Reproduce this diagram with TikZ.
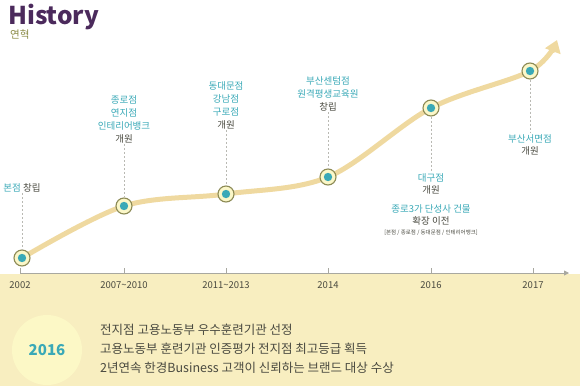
\documentclass[tikz,border=0pt]{standalone}
\usepackage{fontspec}
\setmainfont{Noto Sans CJK KR}
\usetikzlibrary{arrows.meta}
\definecolor{tealc}{HTML}{3AA9B7}
\definecolor{bandc}{HTML}{F8EEC0}
\definecolor{curvec}{HTML}{EFD9A0}
\definecolor{purp}{HTML}{4B2A5C}
\definecolor{olivec}{HTML}{8A8A45}
\definecolor{dtext}{HTML}{4A4A40}
\definecolor{ringc}{HTML}{8C8A55}
\definecolor{ringfill}{HTML}{FBF7C8}
\definecolor{yearcirc}{HTML}{FCF8C6}
\definecolor{axisc}{HTML}{A8A8A0}
\tikzset{
  marker/.style={circle, draw=ringc, fill=ringfill, line width=1.1pt, minimum size=16pt, inner sep=0pt},
  lbl/.style={align=center, font=\fontsize{9.5}{12.8}\selectfont, text=dtext, inner sep=1pt},
  conn/.style={draw=axisc!80, dashed, dash pattern=on 2pt off 2pt, line width=0.8pt},
  yr/.style={font=\fontsize{9.5}{10}\selectfont, text=dtext},
  tick/.style={draw=axisc, line width=0.8pt},
  body/.style={anchor=west, font=\fontsize{12.5}{14}\selectfont, text=dtext, inner sep=0pt}
}
\begin{document}
\begin{tikzpicture}[x=1pt,y=-1pt]
\useasboundingbox (0,0) rectangle (580,386);
\fill[bandc] (0,274) rectangle (580,386);

% header
\node[anchor=west, inner sep=0pt, text=purp, font=\fontsize{24.5}{25}\selectfont\bfseries] (title) at (8,17) {History};
\node[anchor=west, inner sep=0pt, text=olivec, font=\fontsize{10.5}{12}\selectfont] (sub) at (10,35) {연혁};

% axis
\coordinate (ax0) at (20,273);
\coordinate (ax1) at (569,273);
\draw[draw=axisc, line width=0.9pt, -{Triangle[length=5pt,width=5pt]}] (ax0) -- (ax1);
\foreach \x/\t in {20/2002,124/2007\textasciitilde 2010,226/2011\textasciitilde 2013,328/2014,431/2016,533/2017}{
  \draw[tick] (\x,268) -- (\x,273);
  \node[yr] at (\x,285) {\t};
}

% curve
\draw[curvec, line width=5pt, line cap=round, -{Triangle[length=12pt,width=16pt]}]
  plot[smooth, tension=0.55] coordinates {(22,258) (124,206) (226,194) (328,177) (431,108) (530,71) (557,40)};

% markers
\foreach \n/\x/\y in {m1/22/258, m2/124/206, m3/226/194, m4/328/177, m5/431/108, m6/530/71}{
  \node[marker] (\n) at (\x,\y) {};
  \fill[tealc] (\n.center) circle (4.2pt);
}

% labels
\node[lbl, anchor=south] (l1) at (22,193) {\textcolor{tealc}{본점} 창립};
\node[lbl, anchor=south] (l2) at (124,144) {\textcolor{tealc}{종로점}\\\textcolor{tealc}{연지점}\\\textcolor{tealc}{인테리어뱅크}\\개원};
\node[lbl, anchor=south] (l3) at (226,130) {\textcolor{tealc}{동대문점}\\\textcolor{tealc}{강남점}\\\textcolor{tealc}{구로점}\\개원};
\node[lbl, anchor=south] (l4) at (328,112) {\textcolor{tealc}{부산센텀점}\\\textcolor{tealc}{원격평생교육원}\\창립};
\node[lbl, anchor=north] (l5) at (431,172) {\textcolor{tealc}{대구점}\\개원};
\node[lbl, anchor=north] (l5b) at (431,203) {\textcolor{tealc}{종로3가 단성사 건물}\\확장 이전};
\node[anchor=north, inner sep=0pt, text=dtext, font=\fontsize{5.5}{6}\selectfont] (l5c) at (431,230) {[본점 / 종로점 / 동대문점 / 인테리어뱅크]};
\node[lbl, anchor=north] (l6) at (530,133) {\textcolor{tealc}{부산서면점}\\개원};

% connectors
\draw[conn] (l1.south) -- (m1.north);
\draw[conn] (l2.south) -- (m2.north);
\draw[conn] (l3.south) -- (m3.north);
\draw[conn] (l4.south) -- (m4.north);
\draw[conn] (m5.south) -- (l5.north);
\draw[conn] (m6.south) -- (l6.north);

% bottom
\node[circle, fill=yearcirc, minimum size=70pt, inner sep=0pt, text=tealc, font=\fontsize{15}{16}\selectfont\bfseries] (yc) at (47,350) {2016};
\node[body] (b1) at (100,330) {전지점 고용노동부 우수훈련기관 선정};
\node[body] (b2) at (100,349) {고용노동부 훈련기관 인증평가 전지점 최고등급 획득};
\node[body] (b3) at (100,368) {2년연속 한경Business 고객이 신뢰하는 브랜드 대상 수상};
\end{tikzpicture}
\end{document}
